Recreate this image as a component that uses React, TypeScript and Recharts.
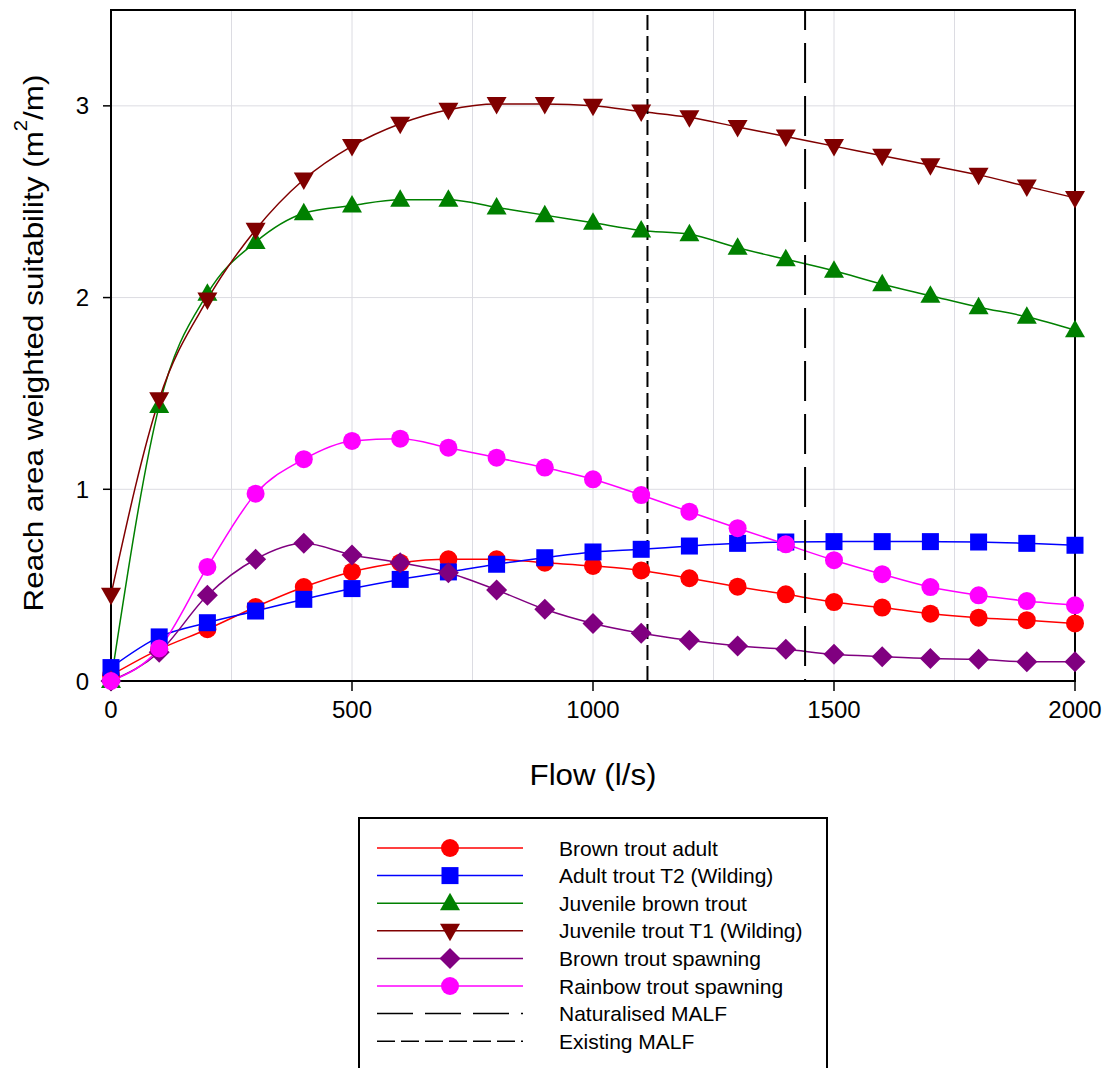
import React from 'react';
import { LineChart, Line, XAxis, YAxis, CartesianGrid, ReferenceLine, ReferenceArea, Label } from 'recharts';

// flow steps (l/s)
const flows = [0, 100, 200, 300, 400, 500, 600, 700, 800, 900, 1000, 1100, 1200, 1300, 1400, 1500, 1600, 1700, 1800, 1900, 2000];

// reach area weighted suitability (m2/m)
const brownAdult = [0.03, 0.165, 0.27, 0.386, 0.49, 0.57, 0.617, 0.635, 0.635, 0.617, 0.6, 0.577, 0.536, 0.492, 0.452, 0.412, 0.383, 0.351, 0.33, 0.317, 0.3];
const adultT2 = [0.07, 0.23, 0.304, 0.365, 0.426, 0.482, 0.53, 0.569, 0.609, 0.643, 0.673, 0.687, 0.704, 0.718, 0.725, 0.727, 0.727, 0.727, 0.725, 0.718, 0.708];
const juvBrown = [0, 1.435, 2.02, 2.29, 2.44, 2.48, 2.51, 2.51, 2.47, 2.43, 2.39, 2.35, 2.33, 2.26, 2.2, 2.14, 2.07, 2.01, 1.95, 1.9, 1.83];
const juvT1 = [0.45, 1.47, 1.99, 2.354, 2.616, 2.79, 2.907, 2.98, 3.01, 3.01, 3.0, 2.97, 2.94, 2.89, 2.84, 2.79, 2.74, 2.69, 2.64, 2.58, 2.52];
const brownSpawn = [0, 0.15, 0.447, 0.635, 0.718, 0.657, 0.617, 0.565, 0.475, 0.374, 0.3, 0.249, 0.212, 0.183, 0.165, 0.139, 0.127, 0.117, 0.113, 0.1, 0.1];
const rainbowSpawn = [0, 0.17, 0.595, 0.977, 1.157, 1.252, 1.264, 1.217, 1.165, 1.113, 1.052, 0.97, 0.883, 0.797, 0.713, 0.63, 0.557, 0.49, 0.447, 0.417, 0.395];

const xTicks = [0, 500, 1000, 1500, 2000];
const yTicks = [0, 1, 2, 3];
const gridFlows = [250, 500, 750, 1000, 1250, 1500, 1750];
const gridSuit = [1, 2, 3];

const naturalisedMalf = 1440;
const existingMalf = 1113;

type Shape = 'circle' | 'square' | 'triangle' | 'triangleDown' | 'diamond';

const series: { key: string; name: string; color: string; shape: Shape; values: number[] }[] = [
  { key: 'brownAdult', name: 'Brown trout adult', color: '#ff0000', shape: 'circle', values: brownAdult },
  { key: 'adultT2', name: 'Adult trout T2 (Wilding)', color: '#0000ff', shape: 'square', values: adultT2 },
  { key: 'juvBrown', name: 'Juvenile brown trout', color: '#008000', shape: 'triangle', values: juvBrown },
  { key: 'juvT1', name: 'Juvenile trout T1 (Wilding)', color: '#800000', shape: 'triangleDown', values: juvT1 },
  { key: 'brownSpawn', name: 'Brown trout spawning', color: '#800080', shape: 'diamond', values: brownSpawn },
  { key: 'rainbowSpawn', name: 'Rainbow trout spawning', color: '#ff00ff', shape: 'circle', values: rainbowSpawn },
];

const malfLines = [
  { name: 'Naturalised MALF', dash: '40 13', legendDash: '36 12' },
  { name: 'Existing MALF', dash: '15 6', legendDash: '18 6' },
];

const chartData = flows.map((f, i) => {
  const row: { [k: string]: number } = { flow: f };
  series.forEach(s => { row[s.key] = s.values[i]; });
  return row;
});

const FONT = '"Liberation Sans", Arial, sans-serif';

const Marker = ({ cx, cy, shape, color }: { cx: number; cy: number; shape: Shape; color: string }) => {
  if (cx == null || cy == null) return null;
  switch (shape) {
    case 'circle':
      return <circle cx={cx} cy={cy} r={9} fill={color} />;
    case 'square':
      return <rect x={cx - 8.5} y={cy - 8.5} width={17} height={17} fill={color} />;
    case 'triangle':
      return <polygon points={`${cx},${cy - 10.5} ${cx + 10},${cy + 7} ${cx - 10},${cy + 7}`} fill={color} />;
    case 'triangleDown':
      return <polygon points={`${cx},${cy + 10.5} ${cx + 10},${cy - 7} ${cx - 10},${cy - 7}`} fill={color} />;
    case 'diamond':
      return <polygon points={`${cx},${cy - 10.5} ${cx + 10.5},${cy} ${cx},${cy + 10.5} ${cx - 10.5},${cy}`} fill={color} />;
  }
  return null;
};

const YTitle = (props: any) => {
  const vb = props.viewBox || { x: 0, y: 10, width: 111, height: 671 };
  const x = vb.x + 33;
  const y = vb.y + 333;
  return (
    <text x={x} y={y} transform={`rotate(-90, ${x}, ${y})`} textAnchor="middle" dominantBaseline="central"
      fontFamily={FONT} fontSize={28} fill="#000" textLength={537} lengthAdjust="spacingAndGlyphs">
      Reach area weighted suitability (m
      <tspan fontSize={18} dy={-12}>2</tspan>
      <tspan dy={12}>/m)</tspan>
    </text>
  );
};

const XTitle = (props: any) => {
  const vb = props.viewBox || { x: 111, y: 681, width: 964, height: 100 };
  return (
    <text x={vb.x + vb.width / 2} y={vb.y + 94} textAnchor="middle" dominantBaseline="central"
      fontFamily={FONT} fontSize={29} fill="#000" textLength={127} lengthAdjust="spacingAndGlyphs">
      Flow (l/s)
    </text>
  );
};

const LegendBox = () => (
  <div style={{ position: 'absolute', left: 358, top: 817, width: 470, height: 270, border: '2px solid #000', background: '#fff', boxSizing: 'border-box' }}>
    <svg width={470} height={270} style={{ position: 'absolute', left: -2, top: -2 }}>
      {series.map((s, i) => {
        const y = 31 + i * 27.6;
        return (
          <g key={s.key}>
            <line x1={19} x2={165} y1={y} y2={y} stroke={s.color} strokeWidth={1.5} />
            <Marker cx={92} cy={y} shape={s.shape} color={s.color} />
            <text x={201} y={y} dominantBaseline="central" fontFamily={FONT} fontSize={21} fill="#000">{s.name}</text>
          </g>
        );
      })}
      {malfLines.map((m, j) => {
        const y = 31 + (series.length + j) * 27.6;
        return (
          <g key={m.name}>
            <line x1={19} x2={165} y1={y} y2={y} stroke="#000" strokeWidth={1.5} strokeDasharray={m.legendDash} />
            <text x={201} y={y} dominantBaseline="central" fontFamily={FONT} fontSize={21} fill="#000">{m.name}</text>
          </g>
        );
      })}
    </svg>
  </div>
);

export default function App() {
  return (
    <div style={{ position: 'absolute', left: 0, top: 0, width: 1110, height: 1068, background: '#fff', overflow: 'hidden' }}>
      <LineChart width={1110} height={1068} data={chartData} margin={{ top: 10, right: 35, bottom: 287, left: 0 }}>
        <CartesianGrid stroke="#dcdce2" strokeWidth={1} verticalValues={gridFlows} horizontalValues={gridSuit} />
        <XAxis dataKey="flow" type="number" domain={[0, 2000]} ticks={xTicks} height={100}
          axisLine={{ stroke: '#000', strokeWidth: 2 }} tickLine={{ stroke: '#000', strokeWidth: 1.5 }}
          tickSize={10} tickMargin={10} tick={{ fill: '#000', fontSize: 24, fontFamily: FONT }}>
          <Label content={<XTitle />} />
        </XAxis>
        <YAxis type="number" domain={[0, 3.5]} ticks={yTicks} width={111}
          axisLine={{ stroke: '#000', strokeWidth: 2 }} tickLine={{ stroke: '#000', strokeWidth: 1.5 }}
          tickSize={8} tickMargin={14} tick={{ fill: '#000', fontSize: 24, fontFamily: FONT }}>
          <Label content={<YTitle />} />
        </YAxis>
        <ReferenceArea x1={0} x2={2000} y1={0} y2={3.5} fill="none" fillOpacity={0} stroke="#000" strokeWidth={2} />
        {series.map(s => (
          <Line key={s.key} type="monotone" dataKey={s.key} name={s.name} stroke={s.color} strokeWidth={1.5}
            isAnimationActive={false}
            dot={(p: any) => <Marker key={`${s.key}-${p.index}`} cx={p.cx} cy={p.cy} shape={s.shape} color={s.color} />}
            activeDot={false} />
        ))}
        <ReferenceLine x={existingMalf} stroke="#000" strokeWidth={2} strokeDasharray={malfLines[1].dash} />
        <ReferenceLine x={naturalisedMalf} stroke="#000" strokeWidth={2} strokeDasharray={malfLines[0].dash} strokeDashoffset={-15} />
      </LineChart>
      <LegendBox />
    </div>
  );
}
